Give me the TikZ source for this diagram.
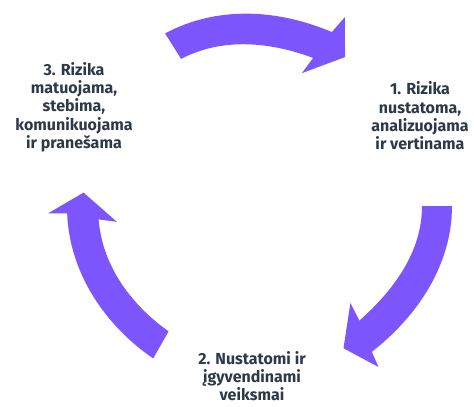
\documentclass[tikz,border=0pt]{standalone}
\usepackage{fontspec}
\setmainfont{Fira Sans}
\definecolor{ArrowPurple}{RGB}{124,86,252}
\definecolor{TextSlate}{RGB}{45,56,72}
\tikzset{
  steptext/.style={text=TextSlate, align=center, inner sep=0pt, font=\bfseries\fontsize{16}{18.3}\selectfont},
  cyclearrow/.style={fill=ArrowPurple, looseness=0.9}
}
\begin{document}
\begin{tikzpicture}[x=1pt,y=1pt]
  \useasboundingbox (0,0) rectangle (474,-407);

  \node[steptext] (step1) at (420,-116) {1. Rizika\\nustatoma,\\analizuojama\\ir vertinama};
  \node[steptext] (step2) at (252,-376) {2. Nustatomi ir\\įgyvendinami\\veiksmai};
  \node[steptext] (step3) at (74,-107) {3. Rizika\\matuojama,\\stebima,\\komunikuojama\\ir pranešama};

  % arrows round the centre
  \coordinate (hub) at (258,-206);
  \begin{scope}[shift={(hub)}]
    \fill[cyclearrow] (118.3:196) to[out=28.3,in=157] (67:189) -- (65.3:208) -- (59.7:172.5) -- (71.7:140) -- (69.6:158) to[out=159.6,in=27.6] (117.6:166) -- cycle;
    \fill[cyclearrow] (0:194) to[out=-90,in=38] (-52:185) -- (-53.2:201) -- (-59:166) -- (-46.4:134) -- (-48.5:153) to[out=41.5,in=-90] (0:164) -- cycle;
    \fill[cyclearrow] (235.5:185) to[out=145.5,in=272.2] (182.2:191) -- (182:210) -- (175.6:175) -- (186.4:142) -- (184.8:160) to[out=274.8,in=144.5] (234.5:154) -- cycle;
  \end{scope}
\end{tikzpicture}
\end{document}
